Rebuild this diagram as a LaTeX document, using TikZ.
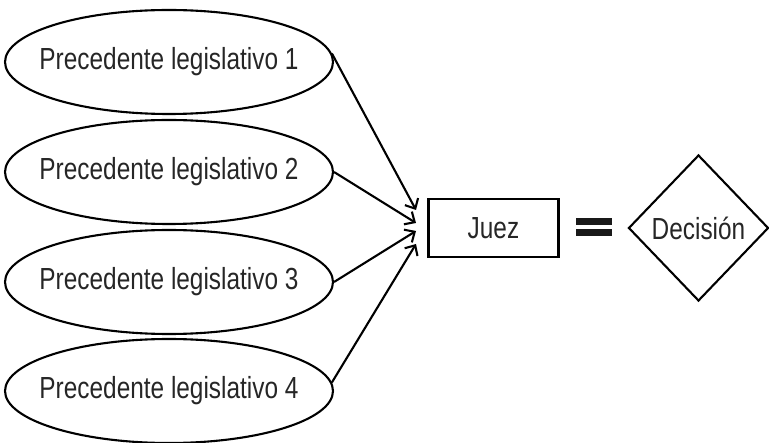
\documentclass[tikz,border=0pt]{standalone}
\usepackage{fontspec}
\setmainfont{Liberation Sans}[FakeStretch=0.8]
\usetikzlibrary{shapes.geometric,arrows.meta}
\begin{document}
\begin{tikzpicture}[x=1pt,y=-1pt,
  every node/.style={font=\fontsize{30.5}{36}\selectfont, text=black!85},
  prec/.style={ellipse, draw, line width=2.1pt, minimum width=328pt, minimum height=104pt, inner sep=0pt},
  judge/.style={rectangle, draw, line width=2.1pt, minimum width=130pt, minimum height=58pt, inner sep=0pt},
  dec/.style={diamond, draw, line width=2.1pt, minimum width=140pt, minimum height=146pt, inner sep=0pt},
  arr/.style={line width=2.1pt, -{Straight Barb[length=8pt,width=15pt,line width=2.1pt]}},
  eqbar/.style={fill=black!90, draw=none}]
\useasboundingbox (0,0) rectangle (769,443);
\node[prec] (p1) at (169,62) {\makebox[0pt]{Precedente legislativo 1}};
\node[prec] (p2) at (169,172) {\makebox[0pt]{Precedente legislativo 2}};
\node[prec] (p3) at (169,282) {\makebox[0pt]{Precedente legislativo 3}};
\node[prec] (p4) at (169,391) {\makebox[0pt]{Precedente legislativo 4}};
\node[judge] (j) at (493.5,228) {Juez};
\node[dec] (d) at (698.5,228) {Decisión};
\coordinate (t1) at (416,210);
\coordinate (t2) at (416,223);
\coordinate (t3) at (416,231);
\coordinate (t4) at (416,244);
\draw[arr] (p1.3) -- (t1);
\draw[arr] (p2.0) -- (t2);
\draw[arr] (p3.0) -- (t3);
\draw[arr] (p4.3) -- (t4);
\fill[eqbar] (576,218) rectangle (612,225);
\fill[eqbar] (576,229) rectangle (612,236);
\end{tikzpicture}
\end{document}
